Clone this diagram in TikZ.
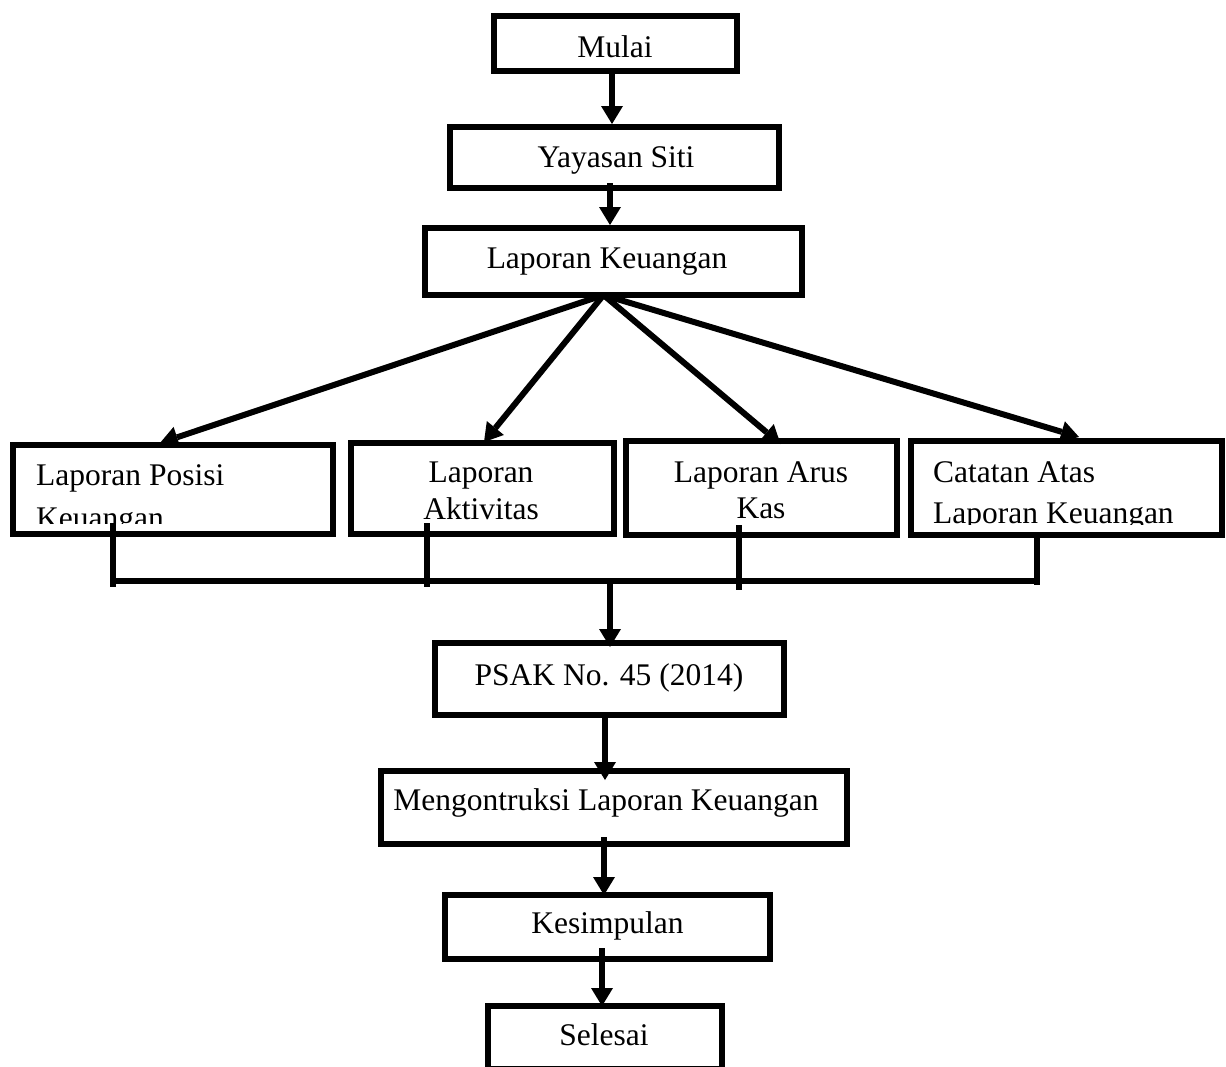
\documentclass[tikz,border=0pt]{standalone}
\usepackage{fontspec}
\setmainfont{Liberation Serif}
\usetikzlibrary{arrows.meta}
\begin{document}
\begin{tikzpicture}[x=1pt,y=-1pt,
  box/.style={draw, line width=6pt, rectangle, inner sep=0pt},
  txt/.style={anchor=base, inner sep=0pt, font=\fontsize{31.5}{38}\selectfont},
  txtl/.style={txt, anchor=base west},
  arr/.style={line width=6pt, -{Triangle[width=22pt,length=18pt,line width=0pt]}},
  ln/.style={line width=6pt}]
\useasboundingbox (0,0) rectangle (1226,1066);

% boxes
\node[box, minimum width=243pt, minimum height=55pt] (mulai) at (615.5,43.5) {};
\node[box, minimum width=329pt, minimum height=61pt] (yay) at (614.5,157.5) {};
\node[box, minimum width=377pt, minimum height=67pt] (lk) at (613.5,261.5) {};
\node[box, minimum width=320pt, minimum height=89pt] (b1) at (173,489.5) {};
\node[box, minimum width=263pt, minimum height=91pt] (b2) at (482.5,488.5) {};
\node[box, minimum width=271pt, minimum height=94pt] (b3) at (761.5,488) {};
\node[box, minimum width=311pt, minimum height=94pt] (b4) at (1066.5,488) {};
\node[box, minimum width=349pt, minimum height=72pt] (psak) at (609.5,679) {};
\node[box, minimum width=466pt, minimum height=73pt] (meng) at (614,807.5) {};
\node[box, minimum width=325pt, minimum height=64pt] (kes) at (607.5,927) {};
\node[box, minimum width=234pt, minimum height=63pt] (sel) at (605,1037.5) {};

% texts
\node[txt] (tmulai) at (615,57) {Mulai};
\node[txt] (tyay) at (616,167) {Yayasan Siti};
\node[txt] (tlk) at (607,268) {Laporan Keuangan};
\node[txtl] (tb1a) at (36,485) {Laporan Posisi};
\begin{scope}
  \clip (10,442) rectangle (336,523);
  \node[txtl] (tb1b) at (36,528) {Keuangan};
\end{scope}
\node[txt] (tb2a) at (481,482) {Laporan};
\node[txt] (tb2b) at (481,519) {Aktivitas};
\node[txt] (tb3a) at (761,482) {Laporan Arus};
\node[txt] (tb3b) at (761,518) {Kas};
\node[txtl] (tb4a) at (933,482) {Catatan Atas};
\begin{scope}
  \clip (908,438) rectangle (1224,524);
  \node[txtl] (tb4b) at (933,523) {Laporan Keuangan};
\end{scope}
\node[txt] (tpsak) at (609,685) {PSAK No. 45 (2014)};
\node[txt] (tmeng) at (606,810) {Mengontruksi Laporan Keuangan};
\node[txt] (tkes) at (607.5,933) {Kesimpulan};
\node[txt] (tsel) at (604,1045) {Selesai};

% vertical arrows
\draw[arr] ([xshift=-3.5pt,yshift=6pt]mulai.south) -- ([xshift=-2.5pt]yay.north);
\draw[arr] ([xshift=-4.5pt,yshift=8pt]yay.south) -- ([xshift=-3.5pt]lk.north);

% fan
\coordinate (fan) at ([xshift=-10pt,yshift=3pt]lk.south);
\draw[arr] (fan) -- ([xshift=-13pt,yshift=-1pt]b1.north);
\draw[arr] (fan) -- ([xshift=1.5pt,yshift=-2pt]b2.north);
\draw[arr] (fan) -- ([xshift=19pt,yshift=-6pt]b3.north);
\draw[arr] (fan) -- ([xshift=12.5pt,yshift=1pt]b4.north);

% bus
\coordinate (k1) at (113,523); \coordinate (e1) at (113,587);
\coordinate (k2) at (427,523); \coordinate (e2) at (427,587);
\coordinate (k3) at (739,525); \coordinate (e3) at (739,590);
\coordinate (k4) at (1037,538); \coordinate (e4) at (1037,585);
\coordinate (busL) at (113,581); \coordinate (busR) at (1037,581);
\coordinate (busM) at (610,581);
\draw[ln] (k1) -- (e1);
\draw[ln] (k2) -- (e2);
\draw[ln] (k3) -- (e3);
\draw[ln] (k4) -- (e4);
\draw[ln] (busL) -- (busR);
\draw[arr] (busM) -- ([xshift=0.5pt,yshift=-7pt]psak.north);

\draw[arr] ([xshift=-4.5pt,yshift=5pt]psak.south) -- ([xshift=-9pt,yshift=-12pt]meng.north);
\draw[arr] ([xshift=-10pt,yshift=10pt]meng.south) -- ([xshift=-3.5pt,yshift=-3pt]kes.north);
\draw[arr] ([xshift=-5.5pt,yshift=14pt]kes.south) -- ([xshift=-3pt,yshift=-3pt]sel.north);
\end{tikzpicture}
\end{document}
